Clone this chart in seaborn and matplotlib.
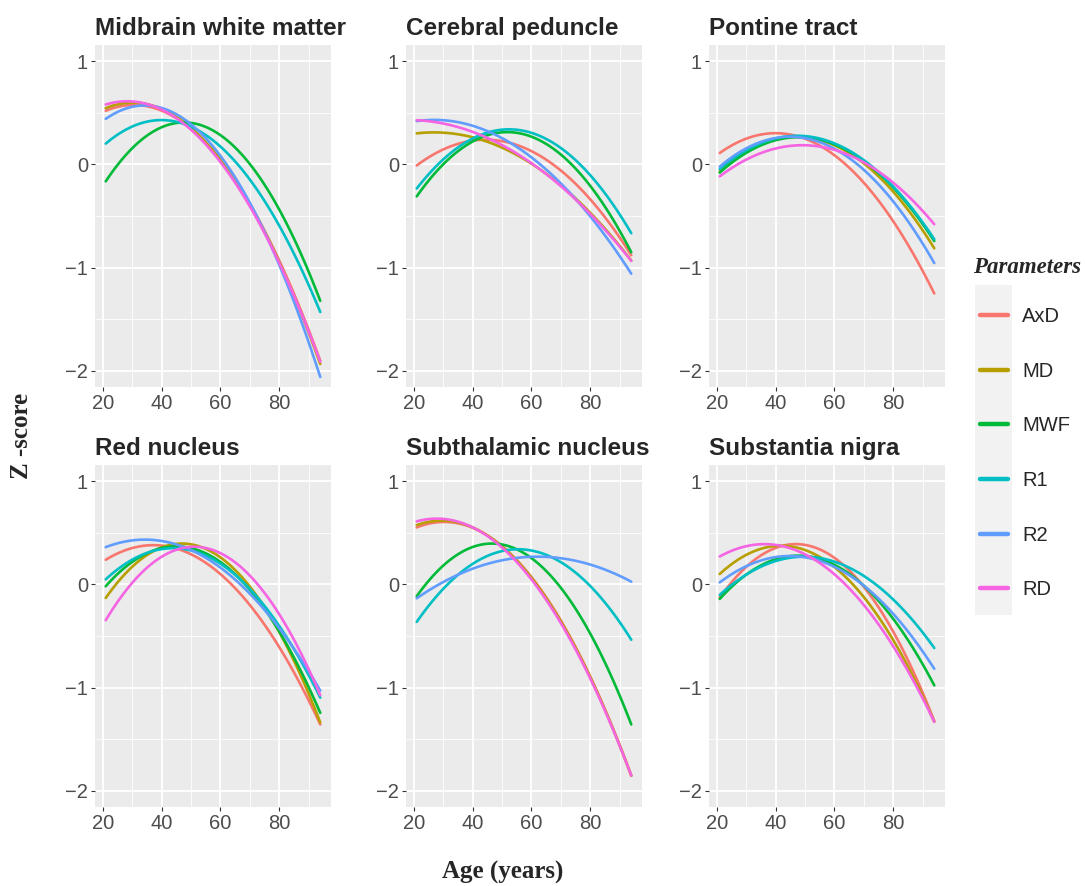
import matplotlib
matplotlib.use("Agg")
import matplotlib.pyplot as plt
import seaborn as sns
import numpy as np
from matplotlib.lines import Line2D
from matplotlib.patches import Rectangle

ages = [21, 40, 60, 80, 94]

params = ["AxD", "MD", "MWF", "R1", "R2", "RD"]
colors = ["#F8766D", "#B79F00", "#00BA38", "#00BFC4", "#619CFF", "#F564E3"]

midbrain_wm = {
    "AxD": [0.50, 0.56, 0.03, -0.96, -1.88],
    "MD":  [0.53, 0.57, 0.03, -0.96, -1.92],
    "MWF": [-0.16, 0.35, 0.28, -0.42, -1.33],
    "R1":  [0.20, 0.43, 0.17, -0.59, -1.43],
    "R2":  [0.43, 0.57, 0.07, -0.98, -2.05],
    "RD":  [0.57, 0.55, 0.02, -0.97, -1.90],
}
cerebral_peduncle = {
    "AxD": [0.02, 0.17, 0.12, -0.25, -0.93],
    "MD":  [0.30, 0.26, 0.01, -0.47, -0.93],
    "MWF": [-0.31, 0.22, 0.27, -0.21, -0.85],
    "R1":  [-0.23, 0.24, 0.31, -0.10, -0.67],
    "R2":  [0.42, 0.37, 0.07, -0.50, -1.06],
    "RD":  [0.43, 0.31, 0.01, -0.47, -0.94],
}
pontine_tract = {
    "AxD": [0.11, 0.30, 0.09, -0.55, -1.25],
    "MD":  [-0.05, 0.20, 0.19, -0.22, -0.84],
    "MWF": [-0.06, 0.19, 0.20, -0.18, -0.77],
    "R1":  [-0.03, 0.22, 0.20, -0.17, -0.75],
    "R2":  [-0.02, 0.25, 0.15, -0.35, -0.96],
    "RD":  [-0.11, 0.14, 0.14, -0.16, -0.59],
}
red_nucleus = {
    "AxD": [0.24, 0.37, 0.10, -0.60, -1.36],
    "MD":  [-0.12, 0.33, 0.27, -0.44, -1.35],
    "MWF": [-0.01, 0.33, 0.23, -0.45, -1.25],
    "R1":  [0.06, 0.32, 0.19, -0.36, -1.12],
    "R2":  [0.36, 0.42, 0.16, -0.42, -1.03],
    "RD":  [-0.34, 0.25, 0.31, -0.28, -1.08],
}
subthalamic_nucleus = {
    "AxD": [0.55, 0.55, 0.07, -0.89, -1.85],
    "MD":  [0.57, 0.56, 0.06, -0.90, -1.85],
    "MWF": [-0.11, 0.35, 0.26, -0.47, -1.36],
    "R1":  [-0.36, 0.19, 0.33, -0.01, -0.54],
    "R2":  [-0.13, 0.14, 0.27, 0.20, 0.02],
    "RD":  [0.61, 0.55, 0.05, -0.91, -1.85],
}
substantia_nigra = {
    "AxD": [-0.12, 0.33, 0.27, -0.45, -1.33],
    "MD":  [0.10, 0.37, 0.17, -0.54, -1.33],
    "MWF": [-0.14, 0.24, 0.19, -0.33, -0.98],
    "R1":  [-0.10, 0.22, 0.22, -0.14, -0.62],
    "R2":  [0.02, 0.26, 0.17, -0.28, -0.82],
    "RD":  [0.27, 0.38, 0.10, -0.60, -1.33],
}

regions = [
    ("Midbrain white matter", midbrain_wm),
    ("Cerebral peduncle", cerebral_peduncle),
    ("Pontine tract", pontine_tract),
    ("Red nucleus", red_nucleus),
    ("Subthalamic nucleus", subthalamic_nucleus),
    ("Substantia nigra", substantia_nigra),
]

sns.set_theme(style="darkgrid", rc={
    "axes.facecolor": "#EBEBEB",
    "grid.color": "white",
    "figure.facecolor": "white",
})
plt.rcParams["font.family"] = ["Liberation Sans", "DejaVu Sans"]

W, H = 1085, 886
fig = plt.figure(figsize=(W / 100, H / 100), dpi=100)

lefts = [95, 406, 709]
tops = [45, 465]
pw, ph = 236, 342

for i, (title, data) in enumerate(regions):
    r, c = divmod(i, 3)
    ax = fig.add_axes([lefts[c] / W, 1 - (tops[r] + ph) / H, pw / W, ph / H])
    for p, col in zip(params, colors):
        sns.regplot(x=ages, y=data[p], order=2, ci=None, scatter=False,
                    ax=ax, color=col, line_kws={"lw": 1.9})
    ax.set_xlim(17.35, 97.65)
    ax.set_ylim(-2.155, 1.155)
    ax.set_xticks([20, 40, 60, 80])
    ax.set_yticks([-2, -1, 0, 1])
    ax.set_xticks([30, 50, 70, 90], minor=True)
    ax.set_yticks([-1.5, -0.5, 0.5], minor=True)
    ax.grid(which="major", color="white", lw=1.3)
    ax.grid(which="minor", color="white", lw=0.6)
    ax.tick_params(which="major", left=True, bottom=True, length=3, width=0.8,
                   color="#333333", labelsize=14.5, labelcolor="#4D4D4D", pad=2)
    ax.tick_params(which="minor", left=False, bottom=False, length=0)
    ax.set_xlabel("")
    ax.set_ylabel("")
    ax.set_title(title, loc="left", fontsize=17.5, fontweight="bold", pad=7)
    for s in ax.spines.values():
        s.set_visible(False)

serif = ["Liberation Serif", "DejaVu Serif"]
fig.text(22 / W, 1 - 436 / H, "Z -score", rotation=90, ha="center", va="center",
         fontsize=18, fontweight="bold", family=serif)
fig.text(503 / W, 1 - 872 / H, "Age (years)", ha="center", va="center",
         fontsize=18, fontweight="bold", family=serif)

# legend
fig.text(973 / W, 1 - 267 / H, "Parameters", ha="left", va="center",
         fontsize=16.5, fontweight="bold", style="italic", family=serif)
fig.patches.append(Rectangle((975 / W, 1 - 615 / H), 37 / W, 330 / H,
                             transform=fig.transFigure, facecolor="#F2F2F2",
                             edgecolor="none", zorder=0))
handles = [Line2D([], [], color=c, lw=3.2) for c in colors]
leg = fig.legend(handles, params, loc="upper left",
                 bbox_to_anchor=(980 / W, 1 - 307 / H), frameon=False,
                 handlelength=1.4, labelspacing=1.77, handletextpad=0.7,
                 borderpad=0, borderaxespad=0,
                 prop={"family": ["Liberation Sans"], "size": 14.5})

fig.savefig("out.png", dpi=100)
